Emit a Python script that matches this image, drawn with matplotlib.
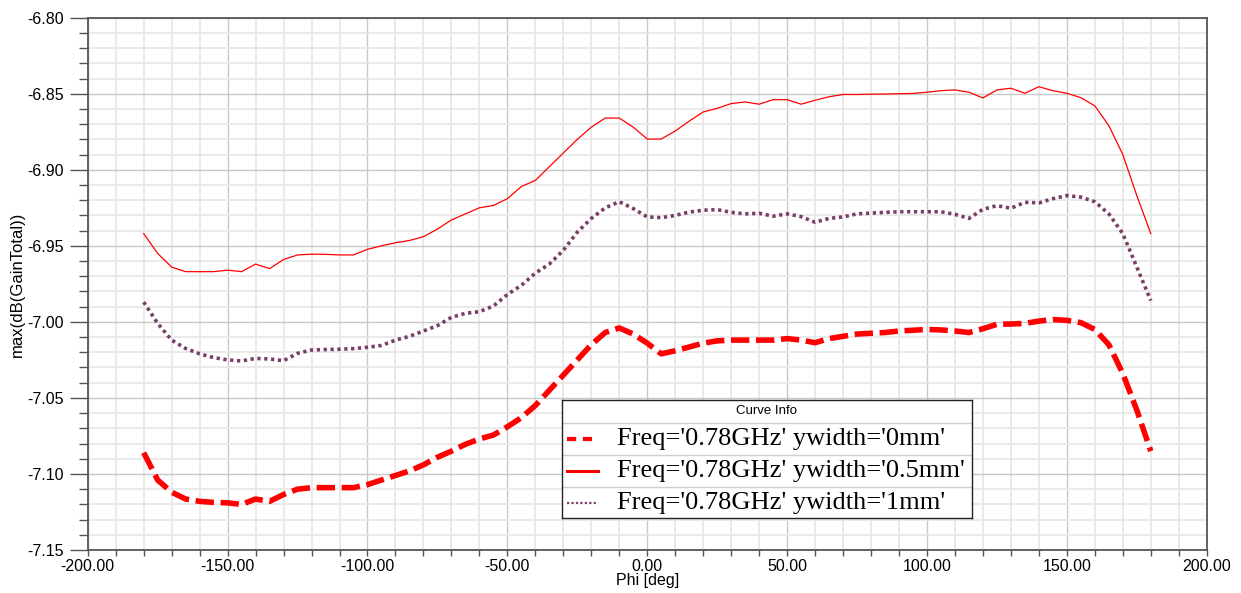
import numpy as np
import matplotlib
matplotlib.use("Agg")
import matplotlib.pyplot as plt
from matplotlib.ticker import MultipleLocator, FormatStrFormatter
from matplotlib.lines import Line2D

# Phi sweep, 5 deg steps
phi = np.arange(-180, 181, 5)

# ywidth = 0 mm (dashed)
gain_0mm = [
    -7.086, -7.104, -7.112, -7.1165, -7.118, -7.1187, -7.119, -7.120, -7.1165, -7.118,
    -7.1135, -7.110, -7.109, -7.109, -7.109, -7.109, -7.107, -7.104, -7.101, -7.098,
    -7.094, -7.089, -7.085, -7.0805, -7.077, -7.0744, -7.069, -7.063, -7.055, -7.045,
    -7.035, -7.025, -7.015, -7.007, -7.004, -7.008, -7.014, -7.021, -7.019, -7.0165,
    -7.014, -7.0125, -7.012, -7.012, -7.012, -7.012, -7.011, -7.012, -7.0137, -7.011,
    -7.0095, -7.008, -7.0075, -7.007, -7.006, -7.0055, -7.005, -7.0053, -7.006, -7.007,
    -7.0045, -7.0016, -7.0014, -7.001, -6.9995, -6.9985, -6.999, -7.0005, -7.005, -7.015,
    -7.034, -7.058, -7.085,
]

# ywidth = 0.5 mm (solid)
gain_05mm = [
    -6.942, -6.955, -6.964, -6.967, -6.967, -6.967, -6.966, -6.967, -6.962, -6.965,
    -6.959, -6.956, -6.9555, -6.9556, -6.956, -6.956, -6.9523, -6.950, -6.948, -6.9465,
    -6.944, -6.939, -6.933, -6.929, -6.925, -6.9235, -6.919, -6.911, -6.907, -6.898,
    -6.889, -6.880, -6.872, -6.866, -6.866, -6.872, -6.8798, -6.8798, -6.8745, -6.868,
    -6.862, -6.8596, -6.8565, -6.8554, -6.8569, -6.8539, -6.8539, -6.8569, -6.8543, -6.852,
    -6.8505, -6.8505, -6.8503, -6.8502, -6.850, -6.8498, -6.849, -6.848, -6.8475, -6.849,
    -6.8528, -6.8475, -6.8464, -6.8497, -6.8454, -6.848, -6.8497, -6.8526, -6.858, -6.871,
    -6.890, -6.917, -6.942,
]

# ywidth = 1 mm (dotted)
gain_1mm = [
    -6.987, -7.001, -7.012, -7.0175, -7.021, -7.0235, -7.025, -7.0257, -7.024, -7.0244,
    -7.0255, -7.0207, -7.0185, -7.0182, -7.018, -7.0176, -7.0167, -7.0155, -7.012, -7.0095,
    -7.006, -7.0025, -6.997, -6.9944, -6.9933, -6.9896, -6.982, -6.976, -6.968, -6.962,
    -6.953, -6.941, -6.932, -6.925, -6.921, -6.9255, -6.931, -6.9315, -6.930, -6.9278,
    -6.9266, -6.9262, -6.928, -6.929, -6.9286, -6.9305, -6.929, -6.9308, -6.9345, -6.932,
    -6.931, -6.929, -6.9285, -6.928, -6.9276, -6.9276, -6.9276, -6.9276, -6.9293, -6.932,
    -6.926, -6.9236, -6.9253, -6.9214, -6.9218, -6.919, -6.917, -6.918, -6.921, -6.929,
    -6.942, -6.964, -6.986,
]

labels = ["Freq='0.78GHz' ywidth='0mm'",
          "Freq='0.78GHz' ywidth='0.5mm'",
          "Freq='0.78GHz' ywidth='1mm'"]

red = "#ff0000"
purple = "#7a3d66"

plt.rcParams['font.family'] = ['Liberation Sans', 'DejaVu Sans']

fig = plt.figure(figsize=(12.41, 5.93), dpi=100)
ax = fig.add_axes([0.0707, 0.0725, 0.9017, 0.8977])

ax.plot(phi, gain_0mm, color=red, lw=4, dashes=(3.3, 1.2), solid_capstyle='butt', zorder=3)
ax.plot(phi, gain_05mm, color=red, lw=0.9, zorder=3)
ax.plot(phi, gain_1mm, color=purple, lw=2.6, dashes=(0.9, 1.0), zorder=3)

ax.set_xlim(-200, 200)
ax.set_ylim(-7.15, -6.80)
ax.xaxis.set_major_locator(MultipleLocator(50))
ax.xaxis.set_minor_locator(MultipleLocator(10))
ax.yaxis.set_major_locator(MultipleLocator(0.05))
ax.yaxis.set_minor_locator(MultipleLocator(0.01))
ax.xaxis.set_major_formatter(FormatStrFormatter('%.2f'))
ax.yaxis.set_major_formatter(FormatStrFormatter('%.2f'))

ax.grid(True, which='major', color='#c8c8c8', lw=1.0, zorder=1)
ax.grid(True, which='minor', color='#e8e8e8', lw=1.3, zorder=0)
ax.set_axisbelow(True)

for s in ax.spines.values():
    s.set_color('#555555')
    s.set_linewidth(1.3)

ax.tick_params(axis='y', which='major', length=13, width=1, color='#555555', labelsize=11.5, pad=4)
ax.tick_params(axis='y', which='minor', length=6.5, width=1, color='#555555')
ax.tick_params(axis='x', which='major', length=4.5, width=1, color='#555555', labelsize=11.5, pad=2)
ax.tick_params(axis='x', which='minor', length=4.5, width=1, color='#555555')

ax.set_xlabel("Phi [deg]", fontsize=11.5, labelpad=-1)
ax.set_ylabel("max(dB(GainTotal))", fontsize=12, labelpad=2)

# Curve Info box
lg = fig.add_axes([562 / 1241, 1 - 518 / 593, 410 / 1241, 118 / 593])
lg.set_xlim(0, 1)
lg.set_ylim(0, 118)
lg.set_xticks([])
lg.set_yticks([])
for s in lg.spines.values():
    s.set_color('#222222')
    s.set_linewidth(1.0)
lg.text(0.5, 107, "Curve Info", ha='center', va='center', fontsize=9.5)
for yy in [95.5, 63, 31.5]:
    lg.axhline(yy, color='#d0d0d0', lw=1)
rows_y = [79, 47, 15.5]
styles = [dict(color=red, lw=3, dashes=(2.2, 1.6)),
          dict(color=red, lw=2.2),
          dict(color=purple, lw=1.6, dashes=(1, 1))]
for y, lab, st in zip(rows_y, labels, styles):
    lg.add_line(Line2D([0.012, 0.088], [y, y], **st))
    lg.text(0.133, y, lab, ha='left', va='center', fontsize=19,
            family=['Liberation Serif', 'DejaVu Serif'])

fig.savefig("out.png", dpi=100)
